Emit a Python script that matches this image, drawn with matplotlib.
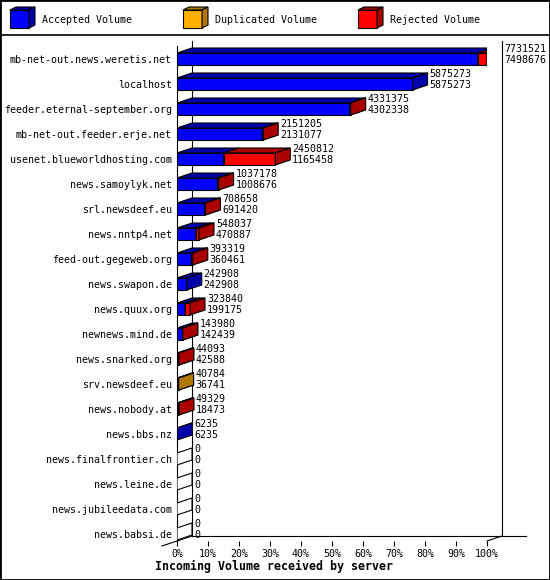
import matplotlib
matplotlib.use("Agg")
import matplotlib.pyplot as plt
from matplotlib.patches import Polygon, Rectangle

# incoming volume per server
hosts = ["mb-net-out.news.weretis.net", "localhost", "feeder.eternal-september.org",
         "mb-net-out.feeder.erje.net", "usenet.blueworldhosting.com", "news.samoylyk.net",
         "srl.newsdeef.eu", "news.nntp4.net", "feed-out.gegeweb.org", "news.swapon.de",
         "news.quux.org", "newnews.mind.de", "news.snarked.org", "srv.newsdeef.eu",
         "news.nobody.at", "news.bbs.nz", "news.finalfrontier.ch", "news.leine.de",
         "news.jubileedata.com", "news.babsi.de"]
accepted = [7498676, 5875273, 4302338, 2131077, 1165458, 1008676, 691420, 470887, 360461, 242908,
            199175, 142439, 42588, 36741, 18473, 6235, 0, 0, 0, 0]
duplicated = [0, 0, 0, 0, 0, 0, 0, 0, 0, 0,
              0, 0, 0, 4043, 0, 0, 0, 0, 0, 0]
rejected = [232845, 0, 29037, 20128, 1285354, 28502, 17238, 77150, 32858, 0,
            124665, 1541, 1505, 0, 30856, 0, 0, 0, 0, 0]

series = [("Accepted Volume", accepted, "#0000ff", "#0000aa"),
          ("Duplicated Volume", duplicated, "#ffb000", "#b07800"),
          ("Rejected Volume", rejected, "#ff0000", "#aa0000")]

W, H = 550, 580
plt.rcParams["font.family"] = ["DejaVu Sans Mono"]
fs = 7.2
lw = 0.8


def fx(px):
    return px / W


def fy(py):
    return 1 - py / H


totals = [a + d + r for a, d, r in zip(accepted, duplicated, rejected)]
vmax = max(totals)

fig = plt.figure(figsize=(W / 100, H / 100), dpi=100)

# front plane of the 3d chart
left_px, right_px, top_px, bot_px = 177, 487, 46, 541
row_px, first_px = 25, 59
ax = fig.add_axes([fx(left_px), fy(bot_px), (right_px - left_px) / W, (bot_px - top_px) / H])
ytop = (top_px - first_px) / row_px
ybot = (bot_px - first_px) / row_px
ax.set_xlim(0, 100)
ax.set_ylim(ybot, ytop)

ddx = 15 / (right_px - left_px) * 100   # depth offset, x
ddy = 5 / row_px                        # depth offset, y (upwards)
half = 6 / row_px
pad = 2 / (right_px - left_px) * 100

for i in range(len(hosts)):
    x = 0.0
    for k, (name, vals, fc, dc) in enumerate(series):
        if vals[i] <= 0:
            continue
        w = vals[i] / vmax * 100
        z = 3 + k
        ax.barh(i, w, left=x, height=2 * half, color=fc, edgecolor="black", linewidth=lw, zorder=z)
        top = [(x, i - half), (x + w, i - half), (x + w + ddx, i - half - ddy), (x + ddx, i - half - ddy)]
        side = [(x + w, i - half), (x + w, i + half), (x + w + ddx, i + half - ddy), (x + w + ddx, i - half - ddy)]
        ax.add_patch(Polygon(top, closed=True, facecolor=dc, edgecolor="black", linewidth=lw, zorder=z))
        ax.add_patch(Polygon(side, closed=True, facecolor=dc, edgecolor="black", linewidth=lw, zorder=z))
        x += w
    if totals[i] == 0:
        side = [(0, i - half), (0, i + half), (ddx, i + half - ddy), (ddx, i - half - ddy)]
        ax.add_patch(Polygon(side, closed=True, facecolor="white", edgecolor="black", linewidth=lw, zorder=3))
    ax.text(x + ddx + pad, i - 0.4, str(totals[i]), fontsize=fs, va="center", ha="left")
    ax.text(x + ddx + pad, i + 0.04, str(accepted[i]), fontsize=fs, va="center", ha="left")

# back wall and floor lines
kw = dict(color="black", linewidth=lw, clip_on=False, zorder=1)
ax.plot([ddx, ddx], [ybot - ddy, ytop - ddy], **kw)
ax.plot([100 + ddx, 100 + ddx], [ybot - ddy, ytop - ddy], **kw)
ax.plot([ddx, (526 - left_px) / (right_px - left_px) * 100], [ybot - ddy, ybot - ddy], **kw)
ax.plot([-ddx, ddx], [ybot + ddy, ybot - ddy], **kw)
ax.plot([100, 100 + ddx], [ybot, ybot - ddy], **kw)

ax.set_yticks(range(len(hosts)))
ax.set_yticklabels(hosts, fontsize=fs)
ax.tick_params(axis="y", length=0, pad=3.6)
ticks = list(range(0, 101, 10))
ax.set_xticks(ticks)
ax.set_xticklabels([f"{t}%" for t in ticks], fontsize=fs)
ax.tick_params(axis="x", length=3.6, width=lw, pad=2, direction="out")
for s in ["top", "right", "bottom"]:
    ax.spines[s].set_visible(False)
ax.spines["left"].set_linewidth(lw)
ax.patch.set_alpha(0)

fig.text(fx(155), fy(566), "Incoming Volume received by server", fontsize=8.4,
         fontweight="bold", va="center", ha="left")

# legend band
lax = fig.add_axes([0, fy(35), 1, 35 / H])
lax.set_xlim(0, W)
lax.set_ylim(35, 0)
lax.set_xticks([])
lax.set_yticks([])
for s in ["top", "left", "right"]:
    lax.spines[s].set_visible(False)
lax.spines["bottom"].set_linewidth(1.2)
leg_x = [10, 183, 358]
for k, (name, vals, fc, dc) in enumerate(series):
    x0 = leg_x[k]
    lax.add_patch(Rectangle((x0, 10), 19, 18, facecolor=fc, edgecolor="black", linewidth=lw))
    lax.add_patch(Polygon([(x0, 10), (x0 + 19, 10), (x0 + 25, 7), (x0 + 6, 7)],
                          closed=True, facecolor=dc, edgecolor="black", linewidth=lw))
    lax.add_patch(Polygon([(x0 + 19, 10), (x0 + 19, 28), (x0 + 25, 25), (x0 + 25, 7)],
                          closed=True, facecolor=dc, edgecolor="black", linewidth=lw))
    lax.text(x0 + 32, 20, name, fontsize=fs, va="center", ha="left")

fig.add_artist(Rectangle((0, 0), 1, 1, transform=fig.transFigure, fill=False,
                         edgecolor="black", linewidth=2))

fig.savefig("out.png", dpi=100)
